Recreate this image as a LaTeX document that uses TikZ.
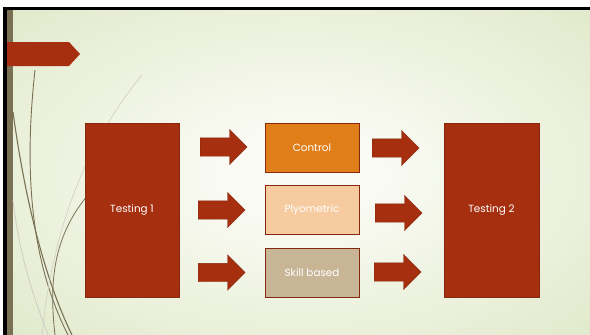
\documentclass[tikz,border=0pt]{standalone}
\usepackage{fontspec}
\setmainfont{Poppins}
\usetikzlibrary{shapes.arrows}

\definecolor{rust}{HTML}{A52F0F}
\definecolor{rustdark}{HTML}{862710}
\definecolor{ctrlorange}{HTML}{E07F1A}
\definecolor{plyopeach}{HTML}{F6CBA0}
\definecolor{skilltan}{HTML}{C8B596}
\definecolor{bgin}{HTML}{FAFBF4}
\definecolor{bgout}{HTML}{DCE6C3}
\definecolor{olive}{HTML}{7A7155}
\pgfdeclareradialshading{slideglow}{\pgfpoint{0bp}{0bp}}{color(0bp)=(bgin);color(6bp)=(bgin);color(42bp)=(bgout);color(50bp)=(bgout)}

\begin{document}
\begin{tikzpicture}[x=1pt,y=-1pt,
  stagebox/.style={draw=rustdark,line width=0.6pt,minimum width=94pt,minimum height=49pt,
    inner sep=0pt,text=white,font=\fontsize{10.4}{12}\selectfont},
  blockarrow/.style={single arrow,fill=rust,draw=rustdark,line width=0.4pt,inner xsep=0pt,
    inner ysep=9pt,single arrow head extend=8.5pt,minimum height=47pt,
    single arrow head indent=0pt,anchor=west}]
\useasboundingbox (0,0) rectangle (590,335);
% slide background and frame
\shade[shading=slideglow] (13,10) rectangle (590,335);
\fill[black] (3,7) rectangle (590,10);
\fill[black] (3,7) rectangle (7,335);
\fill[olive] (7,10) rectangle (13,335);
% swooshes on the left
\draw[olive,line width=0.9pt] (35,70) .. controls (24,170) and (30,260) .. (68,335);
\draw[olive,line width=1.1pt] (13,112) .. controls (25,200) and (45,280) .. (72,335);
\draw[olive!35,line width=0.6pt] (142,75) .. controls (105,120) and (55,200) .. (42,335);
\draw[olive,line width=0.8pt] (88,195) .. controls (50,240) and (50,290) .. (55,335);
\draw[olive!35,line width=0.8pt] (13,200) .. controls (20,260) and (35,300) .. (48,335);
\fill[rust] (7,42) -- (69,42) -- (80,54) -- (69,66) -- (7,66) -- cycle;
% stages
\node[stagebox,fill=rust,minimum height=174pt] (test1) at (132,210) {Testing 1};
\node[stagebox,fill=rust,minimum height=174pt,minimum width=95pt] (test2) at (491.5,210) {Testing 2};
\node[stagebox,fill=ctrlorange] (control) at (312,147.5) {Control};
\node[stagebox,fill=plyopeach] (plyo) at (312,209.5) {Plyometric};
\node[stagebox,fill=skilltan] (skill) at (312,272.5) {Skill based};
% block arrows
\node[blockarrow] (inA) at (200,147) {};
\node[blockarrow] (inB) at (198,210) {};
\node[blockarrow] (inC) at (198,272.5) {};
\node[blockarrow] (outA) at (372,148) {};
\node[blockarrow] (outB) at (375,213) {};
\node[blockarrow] (outC) at (374,272) {};
\end{tikzpicture}
\end{document}
